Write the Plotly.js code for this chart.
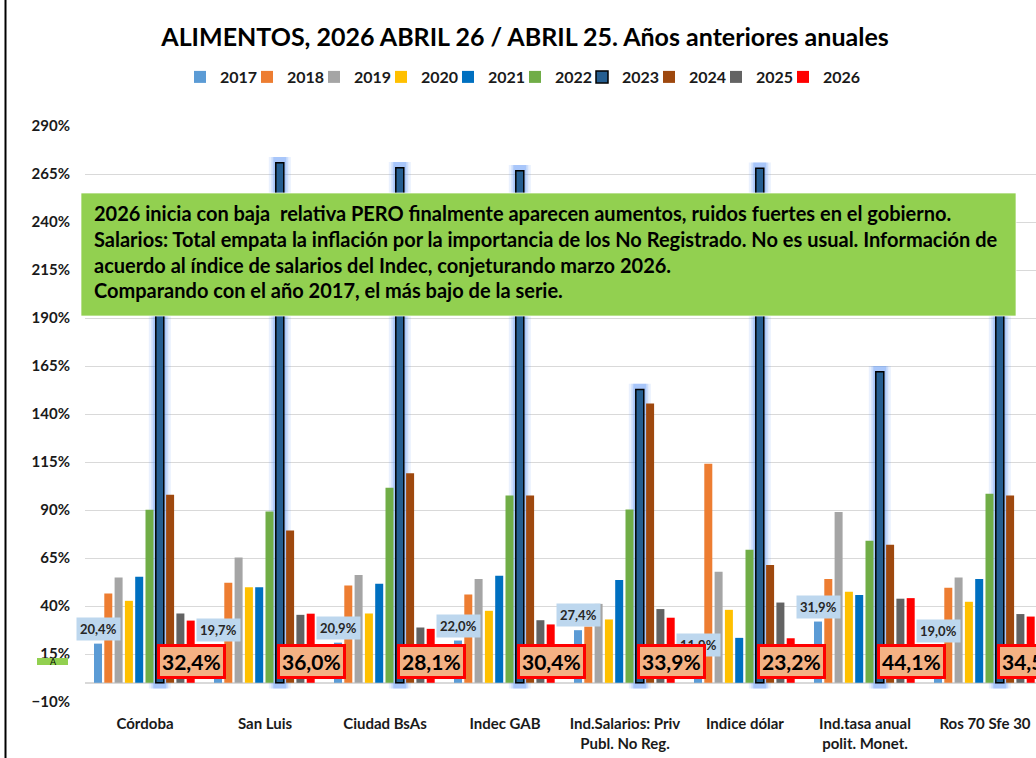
<!DOCTYPE html>
<html><head><meta charset="utf-8">
<script src="https://cdn.plot.ly/plotly-3.0.1.min.js"></script>
<style>html,body{margin:0;padding:0;background:#fff;overflow:hidden}#chart{width:1036px;height:758px}</style>
</head><body><div id="chart"></div><script>
const categories = ['Córdoba','San Luis','Ciudad BsAs','Indec GAB','Ind.Salarios: Priv<br>Publ. No Reg.','Indice dólar','Ind.tasa anual<br>polit. Monet.','Ros 70 Sfe 30'];
const years = ['2017','2018','2019','2020','2021','2022','2023','2024','2025','2026'];
const v2017 = [20.4, 19.7, 20.9, 22.0, 27.4, 11.9, 31.9, 19.0];
const v2018 = [46.5, 52.1, 50.7, 46.0, 29.3, 114.1, 54.0, 49.5];
const v2019 = [54.8, 65.3, 56.1, 54.0, 41.1, 57.8, 88.9, 54.9];
const v2020 = [42.7, 49.8, 36.1, 37.5, 33.0, 38.0, 47.4, 42.2];
const v2021 = [55.2, 49.8, 51.6, 55.7, 53.6, 23.4, 45.7, 54.0];
const v2022 = [90.1, 89.2, 101.6, 97.6, 90.3, 69.3, 74.0, 98.4];
const v2023 = [250.0, 270.8, 268.2, 266.7, 152.8, 268.0, 162.0, 252.0];
const v2024 = [97.9, 79.3, 109.2, 97.6, 145.5, 61.3, 71.9, 97.6];
const v2025 = [36.1, 35.4, 28.8, 32.6, 38.4, 41.8, 43.8, 35.8];
const v2026 = [32.4, 36.0, 28.1, 30.4, 33.9, 23.2, 44.1, 34.5];
const series = [v2017, v2018, v2019, v2020, v2021, v2022, v2023, v2024, v2025, v2026];
const colors = ['#5B9BD5','#ED7D31','#A5A5A5','#FFC000','#0070C0','#70AD47','#255E91','#9E480E','#636363','#FF0000'];
const noteLines = [
  '2026 inicia con baja  relativa PERO finalmente aparecen aumentos, ruidos fuertes en el gobierno.',
  'Salarios: Total empata la inflación por la importancia de los No Registrado. No es usual. Información de',
  'acuerdo al índice de salarios del Indec, conjeturando marzo 2026.',
  'Comparando con el año 2017, el más bajo de la serie.'
];

const FONT = 'Lato, "Open Sans", sans-serif';
const PX = 1/120;           // category units per pixel
const slot = 10.3*PX, bw = 8*PX, start = -51*PX;
const fmt = v => v.toFixed(1).replace('.', ',') + '%';

const traces = [];
// soft glow behind 2023 bars
[[14,0.13],[9,0.2],[5,0.32]].forEach(([extra, a]) => {
  traces.push({
    type:'bar', x:categories, y:v2023.map(v => v + 6), base:-3,
    width:(8+extra)*PX, offset:start + 6*slot - extra/2*PX,
    marker:{color:`rgba(90,150,245,${a})`, line:{width:0}},
    showlegend:false, hoverinfo:'skip'
  });
});
series.forEach((s, k) => {
  traces.push({
    type:'bar', name:years[k], x:categories, y:s,
    width:bw, offset:start + k*slot,
    marker:{color:colors[k], line:{color: k===6 ? '#000000' : colors[k], width: k===6 ? 1.5 : 0}}
  });
});
// empty spacer entry so the last legend label is not clipped
traces.push({type:'scatter', mode:'markers', x:[null], y:[null], name:' ',
  marker:{color:'rgba(0,0,0,0)', size:1}, hoverinfo:'skip'});

const annotations = [];
categories.forEach((c, i) => {
  annotations.push({
    x:c, y:v2017[i], xref:'x', yref:'y', xshift:-47, yshift:3, yanchor:'bottom', xanchor:'center',
    text:fmt(v2017[i]), showarrow:false, bgcolor:'#BDD7EE', borderpad:3,
    font:{family:FONT, size:13, color:'#262626', weight:'bold'}
  });
});
categories.forEach((c, i) => {
  annotations.push({
    x:c, y:10.9, xref:'x', yref:'y', xshift:46, yanchor:'middle', xanchor:'center',
    text:fmt(v2026[i]), showarrow:false, bgcolor:'#F4B183', bordercolor:'#FF0000', borderwidth:3, borderpad:2,
    font:{family:FONT, size:21, color:'#000000', weight:'bold'}
  });
});
const lineY = [213, 239, 265, 290];
noteLines.forEach((t, j) => {
  annotations.push({
    x:(92-85)/951, y:(702-lineY[j])/576, xref:'paper', yref:'paper', xanchor:'left', yanchor:'middle',
    text:t, showarrow:false, align:'left',
    font:{family:FONT, size:20, color:'#000000', weight:'bold'}
  });
});
annotations.push({
  x:(53-85)/951, y:(702-661)/576, xref:'paper', yref:'paper', xanchor:'center', yanchor:'middle',
  text:'A', showarrow:false, font:{family:FONT, size:9, color:'#000000'}
});

const shapes = [
  {type:'rect', xref:'paper', yref:'paper', x0:(81-85)/951, x1:(1016-85)/951, y0:(702-316)/576, y1:(702-193)/576,
   fillcolor:'#92D050', line:{color:'rgba(255,255,255,0.7)', width:1}, layer:'above'},
  {type:'rect', xref:'paper', yref:'paper', x0:(37-85)/951, x1:(68-85)/951, y0:(702-665)/576, y1:(702-658)/576,
   fillcolor:'#92D050', line:{width:0}, layer:'above'},
  {type:'line', xref:'paper', yref:'paper', x0:(5.5-85)/951, x1:(5.5-85)/951, y0:-0.2, y1:1.3,
   line:{color:'#000000', width:2}, layer:'above'}
];

const layout = {
  width:1036, height:758,
  margin:{l:85, r:0, t:126, b:56, pad:0},
  paper_bgcolor:'#ffffff', plot_bgcolor:'#ffffff',
  barmode:'overlay',
  title:{text:'ALIMENTOS, 2026 ABRIL 26 / ABRIL 25. Años anteriores anuales',
    font:{family:FONT, size:25, color:'#000000', weight:'bold'},
    x:525/1036, xref:'container', xanchor:'center', y:1-37/758, yref:'container', yanchor:'middle'},
  legend:{orientation:'h', x:180/1036, xref:'container', xanchor:'left', y:1-77/758, yref:'container', yanchor:'middle',
    font:{family:FONT, size:16, color:'#1a1a1a', weight:'bold'}, itemwidth:30, entrywidth:22, entrywidthmode:'pixels',
    traceorder:'normal'},
  xaxis:{type:'category', range:[-0.5, 7.425], showgrid:false, zeroline:false, showline:false, ticks:'',
    tickfont:{family:FONT, size:15, color:'#1a1a1a', weight:'bold'}, ticklabelstandoff:11, fixedrange:true},
  yaxis:{range:[-10, 290], tick0:-10, dtick:25, ticksuffix:'%', showgrid:true, gridcolor:'#D9D9D9', gridwidth:1,
    zeroline:true, zerolinecolor:'#D9D9D9', zerolinewidth:1.5, showline:false, ticks:'',
    tickfont:{family:FONT, size:15, color:'#1a1a1a', weight:'bold'}, ticklabelstandoff:14, fixedrange:true},
  annotations:annotations,
  shapes:shapes,
  showlegend:true
};

Plotly.newPlot('chart', traces, layout, {displayModeBar:false, staticPlot:true});
</script></body></html>
